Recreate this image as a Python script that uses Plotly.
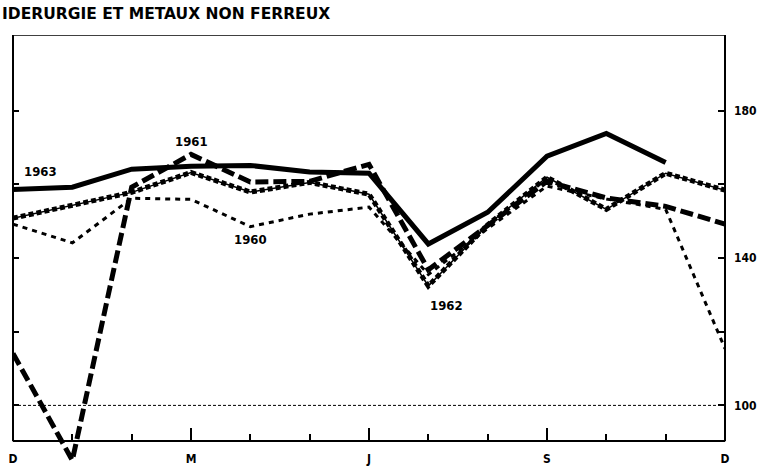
import plotly.graph_objects as go

# months from December (0) to December (12)
months = list(range(13))
month_ticks = ["D", "", "", "M", "", "", "J", "", "", "S", "", "", "D"]

y1963 = [158.6, 159.2, 164.1, 164.9, 165.1, 163.3, 163.0, 143.8, 152.4, 167.6, 173.8, 165.9, None]
y1962 = [150.8, 154.3, 157.8, 163.2, 157.9, 160.5, 157.3, 132.4, 149.0, 161.9, 153.2, 163.0, 158.4]
y1961 = [114.1, 85.1, 159.2, 168.1, 160.6, 160.8, 165.4, 136.8, 148.8, 160.8, 156.3, 154.0, 149.2]
y1960 = [149.2, 144.1, 156.2, 155.9, 148.5, 151.9, 153.8, 135.5, 148.0, 159.5, 156.0, 153.2, 115.4]

y_ticks = [100, 120, 140, 160, 180]
y_ticktext = ["100", "", "140", "", "180"]

# label name, month position, value
labels = [("1963", 0.46, 163.5), ("1961", 3.0, 171.6), ("1960", 4.0, 144.9), ("1962", 7.3, 127.0)]

FONT = "DejaVu Sans Condensed, DejaVu Sans, sans-serif"
Y_RANGE = [84.1, 200.5]
AXIS_BASE = 90.3

fig = go.Figure()

fig.add_trace(go.Scatter(x=months, y=y1960, mode="lines", name="1960",
                         line=dict(color="black", width=3, dash="5px,5px")))
fig.add_trace(go.Scatter(x=months, y=y1962, mode="lines", name="1962",
                         line=dict(color="black", width=1.5)))
fig.add_trace(go.Scatter(x=months, y=y1962, mode="lines", name="1962",
                         line=dict(color="black", width=5, dash="5px,3px")))
fig.add_trace(go.Scatter(x=months, y=y1961, mode="lines", name="1961",
                         line=dict(color="black", width=5, dash="13px,5px")))
fig.add_trace(go.Scatter(x=months, y=y1963, mode="lines", name="1963",
                         line=dict(color="black", width=5)))
# empty traces that only carry the extra tick axes
fig.add_trace(go.Scatter(x=[0, 12], y=[None, None], xaxis="x2", yaxis="y",
                         showlegend=False, hoverinfo="skip"))
fig.add_trace(go.Scatter(x=[0, 12], y=[None, None], xaxis="x", yaxis="y2",
                         showlegend=False, hoverinfo="skip"))

for text, mx, val in labels:
    fig.add_annotation(x=mx, y=val, text=text, showarrow=False,
                       font=dict(family=FONT, size=13, color="black", weight="bold"))

# title (left part cut off in the original scan)
fig.add_annotation(x=0, y=1, xref="paper", yref="paper", xanchor="left", yanchor="bottom",
                   xshift=-13, yshift=10, showarrow=False,
                   text="IDERURGIE ET METAUX NON FERREUX",
                   font=dict(family="DejaVu Sans, sans-serif", size=15.5, color="black", weight="bold"))

# 100 reference line
fig.add_shape(type="line", xref="paper", yref="y", x0=0, x1=1, y0=100, y1=100,
              line=dict(color="black", width=1, dash="3px,2px"))
# frame
fig.add_shape(type="line", xref="paper", yref="y", x0=0, x1=0, y0=AXIS_BASE, y1=Y_RANGE[1],
              line=dict(color="black", width=2))
fig.add_shape(type="line", xref="paper", yref="y", x0=1, x1=1, y0=AXIS_BASE, y1=Y_RANGE[1],
              line=dict(color="black", width=2))
fig.add_shape(type="line", xref="paper", yref="y", x0=0, x1=1, y0=Y_RANGE[1], y1=Y_RANGE[1],
              line=dict(color="black", width=1.5))

pos = (AXIS_BASE - Y_RANGE[0]) / (Y_RANGE[1] - Y_RANGE[0])

fig.update_layout(
    width=768, height=473,
    margin=dict(l=13, r=43, t=35, b=7),
    plot_bgcolor="white", paper_bgcolor="white",
    showlegend=False,
    font=dict(family=FONT, size=12, color="black"),
    xaxis=dict(range=[0, 12], anchor="free", position=pos, showgrid=False, zeroline=False,
               showline=True, linecolor="black", linewidth=2,
               tickvals=months, ticktext=month_ticks, ticks="inside", ticklen=6,
               tickwidth=1.5, tickcolor="black", ticklabelstandoff=6,
               tickfont=dict(family=FONT, size=12, color="black", weight="bold")),
    xaxis2=dict(range=[0, 12], overlaying="x", anchor="free", position=pos,
                showgrid=False, zeroline=False, showline=False,
                tickvals=[3, 6, 9], ticks="inside", ticklen=13, tickwidth=1.5,
                tickcolor="black", showticklabels=False),
    yaxis=dict(range=Y_RANGE, side="right", showgrid=False, zeroline=False, showline=False,
               tickvals=y_ticks, ticktext=y_ticktext, ticks="inside", ticklen=7,
               tickwidth=1.5, tickcolor="black", ticklabelstandoff=8,
               tickfont=dict(family=FONT, size=12, color="black", weight="bold")),
    yaxis2=dict(range=Y_RANGE, overlaying="y", side="left", showgrid=False, zeroline=False,
                showline=False, tickvals=y_ticks, ticks="inside", ticklen=6,
                tickwidth=1.5, tickcolor="black", showticklabels=False),
)

# page body margin would shift the fixed-size figure by 8px
fig.write_html("out.html", config={"displayModeBar": False},
               post_script="document.body.style.margin='0';")
